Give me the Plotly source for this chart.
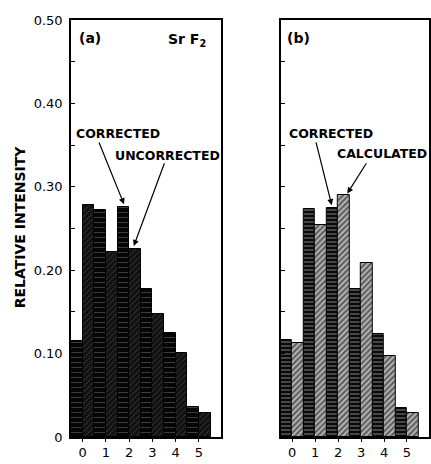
import plotly.graph_objects as go

n = [0, 1, 2, 3, 4, 5]
corrected = [0.115, 0.272, 0.276, 0.178, 0.125, 0.036]
uncorrected = [0.278, 0.222, 0.226, 0.147, 0.101, 0.029]
corrected_b = [0.116, 0.273, 0.275, 0.177, 0.124, 0.035]
calculated = [0.113, 0.254, 0.290, 0.209, 0.097, 0.029]
ytick_vals = [0, 0.05, 0.10, 0.15, 0.20, 0.25, 0.30, 0.35, 0.40, 0.45, 0.50]
ytick_text = ["0", "", "0.10", "", "0.20", "", "0.30", "", "0.40", "", "0.50"]

FONT = "DejaVu Sans"

def pat(shape, bg, fg, size, sol):
    return dict(shape=shape, bgcolor=bg, fgcolor=fg, size=size, solidity=sol, fillmode="overlay")

fig = go.Figure()
fig.add_trace(go.Bar(x=n, y=corrected, xaxis="x", yaxis="y", offsetgroup="c",
                     marker=dict(color="#000", line=dict(color="#000", width=1),
                                 pattern=pat("-", "#050505", "#bbbbbb", 5, 0.12))))
fig.add_trace(go.Bar(x=n, y=uncorrected, xaxis="x", yaxis="y", offsetgroup="u",
                     marker=dict(color="#111", line=dict(color="#000", width=1),
                                 pattern=pat("/", "#111111", "#777777", 4, 0.2))))
fig.add_trace(go.Bar(x=n, y=corrected_b, xaxis="x2", yaxis="y2", offsetgroup="c",
                     marker=dict(color="#000", line=dict(color="#000", width=1),
                                 pattern=pat("-", "#0a0a0a", "#ffffff", 4, 0.25))))
fig.add_trace(go.Bar(x=n, y=calculated, xaxis="x2", yaxis="y2", offsetgroup="u",
                     marker=dict(color="#888", line=dict(color="#000", width=1),
                                 pattern=pat("/", "#b5b5b5", "#000000", 4, 0.5))))

axis_common = dict(showline=True, linecolor="#000", linewidth=1.5, mirror=True,
                   showgrid=False, zeroline=False)
xcommon = dict(axis_common, range=[-0.5, 5.95], tickvals=n, ticktext=["0", "1", "2", "3", "4", "5"],
               ticks="outside", ticklen=3, tickcolor="#000",
               tickfont=dict(family=FONT, size=13, color="#000"))
ycommon = dict(axis_common, range=[0, 0.5], tickvals=ytick_vals, ticks="inside", ticklen=4,
               tickcolor="#000")

fig.update_layout(
    width=431, height=464,
    margin=dict(l=71, r=0, t=20, b=27),
    paper_bgcolor="white", plot_bgcolor="white",
    showlegend=False, barmode="group", bargap=0, bargroupgap=0,
    xaxis=dict(xcommon, domain=[0, 0.419], anchor="y"),
    yaxis=dict(ycommon, anchor="x", ticktext=ytick_text, ticklabelstandoff=4,
               tickfont=dict(family=FONT, size=13, color="#000")),
    xaxis2=dict(xcommon, domain=[0.586, 1.0], anchor="y2", range=[-0.5, 5.96]),
    yaxis2=dict(ycommon, anchor="x2", showticklabels=False),
)

tf = dict(family=FONT, size=12.5, color="#000", weight="bold")
ann = []
def txt(x, y, t, xr, yr, size=12.5, **kw):
    ann.append(dict(x=x, y=y, text=t, xref=xr, yref=yr, showarrow=False,
                    font=dict(tf, size=size), **kw))
def arrow(x0, y0, x1, y1, xr, yr):
    ann.append(dict(x=x1, y=y1, ax=x0, ay=y0, xref=xr, yref=yr, axref=xr, ayref=yr,
                    text="", showarrow=True, arrowhead=2, arrowsize=1, arrowwidth=1.2,
                    arrowcolor="#000"))

txt(0.33, 0.478, "(a)", "x", "y", 14)
txt(4.48, 0.476, "Sr F<sub>2</sub>", "x", "y", 14)
txt(1.53, 0.364, "CORRECTED", "x", "y")
txt(3.67, 0.338, "UNCORRECTED", "x", "y")
arrow(0.68, 0.355, 1.78, 0.279, "x", "y")
arrow(3.54, 0.330, 2.2, 0.229, "x", "y")

txt(0.28, 0.478, "(b)", "x2", "y2", 14)
txt(1.67, 0.364, "CORRECTED", "x2", "y2")
txt(3.92, 0.340, "CALCULATED", "x2", "y2")
arrow(1.02, 0.355, 1.72, 0.278, "x2", "y2")
arrow(3.27, 0.330, 2.4, 0.292, "x2", "y2")

ann.append(dict(x=-0.144, y=0.504, xref="paper", yref="paper", text="RELATIVE INTENSITY",
                xanchor="center", yanchor="middle",
                textangle=-90, showarrow=False, font=dict(tf, size=14)))
ann.append(dict(x=2.13, y=-0.055, xref="x", yref="paper", yanchor="top", text="n",
                showarrow=False, font=dict(tf, size=13)))
ann.append(dict(x=1.93, y=-0.055, xref="x2", yref="paper", yanchor="top", text="n",
                showarrow=False, font=dict(tf, size=13)))
fig.update_layout(annotations=ann)

fig.write_html("out.html")
